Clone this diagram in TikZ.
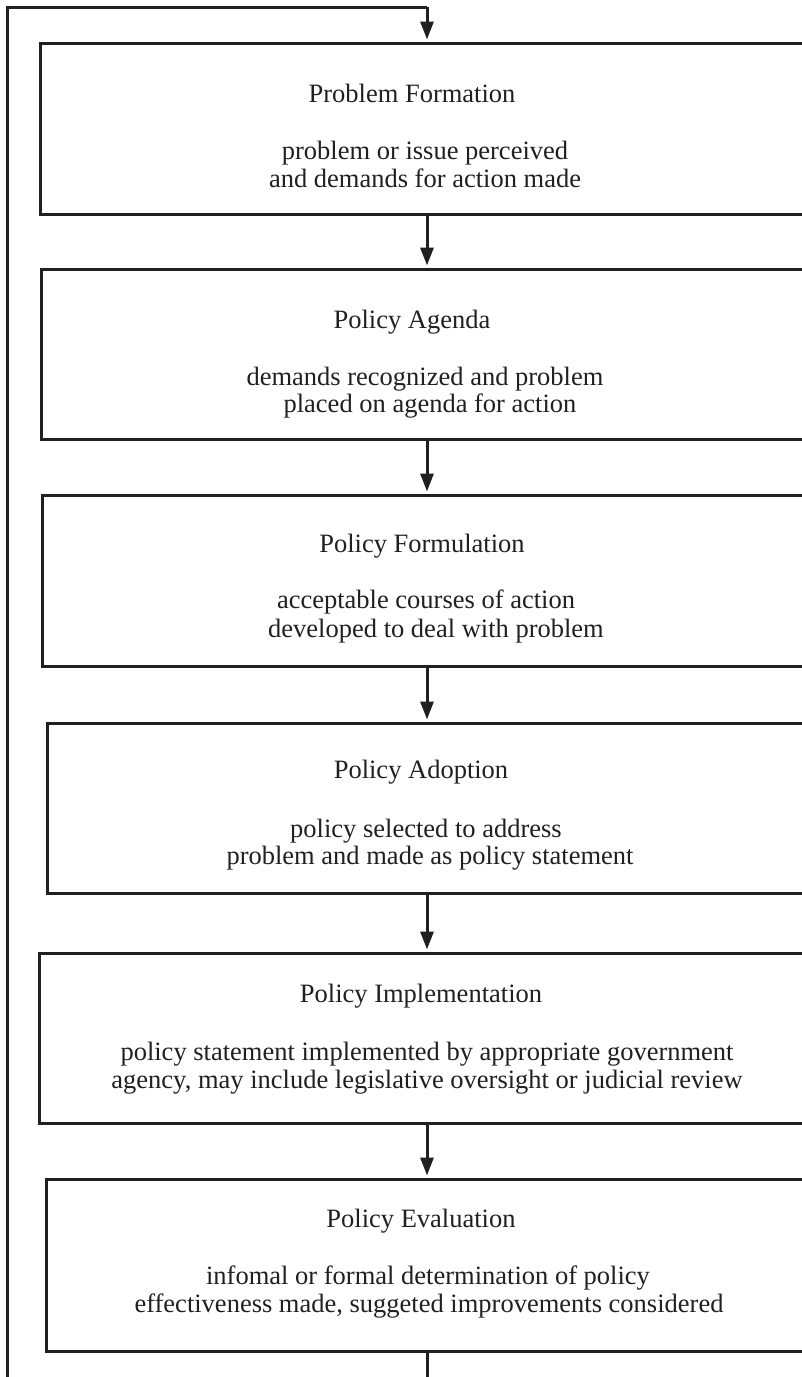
\documentclass[tikz,border=0pt]{standalone}
\usepackage{fontspec}
\setmainfont{Liberation Serif}
\usetikzlibrary{arrows.meta}
\definecolor{ink}{HTML}{231F20}
\tikzset{
  stagebox/.style={draw=ink, line width=3pt, rectangle, anchor=north west, inner sep=0pt},
  title/.style={text=ink, font=\fontsize{26.5}{30}\selectfont, inner sep=0pt, anchor=base},
  body/.style={text=ink, font=\fontsize{26.5}{30}\selectfont, inner sep=0pt, anchor=base},
  flow/.style={draw=ink, line width=3pt, -{Triangle[length=18pt,width=13pt]}, shorten >=2.5pt},
  loopline/.style={draw=ink, line width=3pt},
}
\begin{document}
\begin{tikzpicture}[x=1pt, y=-1pt]
\useasboundingbox (0,0) rectangle (802,1377);
\clip (0,0) rectangle (802,1377);

% stage boxes (they run past the right edge)
\node[stagebox, minimum width=780pt, minimum height=171pt] (b1) at (39,42) {};
\node[stagebox, minimum width=780pt, minimum height=170pt] (b2) at (40,268) {};
\node[stagebox, minimum width=780pt, minimum height=171pt] (b3) at (41,494) {};
\node[stagebox, minimum width=780pt, minimum height=170pt] (b4) at (46,722) {};
\node[stagebox, minimum width=780pt, minimum height=170pt] (b5) at (38,952) {};
\node[stagebox, minimum width=780pt, minimum height=172pt] (b6) at (45,1178) {};

% texts
\node[title] (t1) at (412,102) {Problem Formation};
\node[body]  (p1a) at (425,159) {problem or issue perceived};
\node[body]  (p1b) at (425,187) {and demands for action made};

\node[title] (t2) at (412,328) {Policy Agenda};
\node[body]  (p2a) at (425,385) {demands recognized and problem};
\node[body]  (p2b) at (430,412) {placed on agenda for action};

\node[title] (t3) at (422,552) {Policy Formulation};
\node[body]  (p3a) at (426,608) {acceptable courses of action};
\node[body]  (p3b) at (436,637) {developed to deal with problem};

\node[title] (t4) at (421,778) {Policy Adoption};
\node[body]  (p4a) at (426,837) {policy selected to address};
\node[body]  (p4b) at (430,864) {problem and made as policy statement};

\node[title] (t5) at (421,1002) {Policy Implementation};
\node[body]  (p5a) at (427,1060) {policy statement implemented by appropriate government};
\node[body]  (p5b) at (427,1088) {agency, may include legislative oversight or judicial review};

\node[title] (t6) at (421,1227) {Policy Evaluation};
\node[body]  (p6a) at (428,1284) {infomal or formal determination of policy};
\node[body]  (p6b) at (429,1312) {effectiveness made, suggeted improvements considered};

% flow between stages
\foreach \a/\b in {b1/b2,b2/b3,b3/b4,b4/b5,b5/b6}
  \draw[flow] (\a.south -| 427,0) -- (\b.north -| 427,0);

% feedback loop back to the first stage
\coordinate (lb) at (427,1420);
\coordinate (ll) at (7,1420);
\coordinate (lt) at (7,7);
\coordinate (rt) at (427,7);
\draw[loopline] (b6.south -| 427,0) -- (lb) -- (ll) -- (lt) -- (rt);
\draw[flow] (rt) -- (b1.north -| rt);
\end{tikzpicture}
\end{document}
